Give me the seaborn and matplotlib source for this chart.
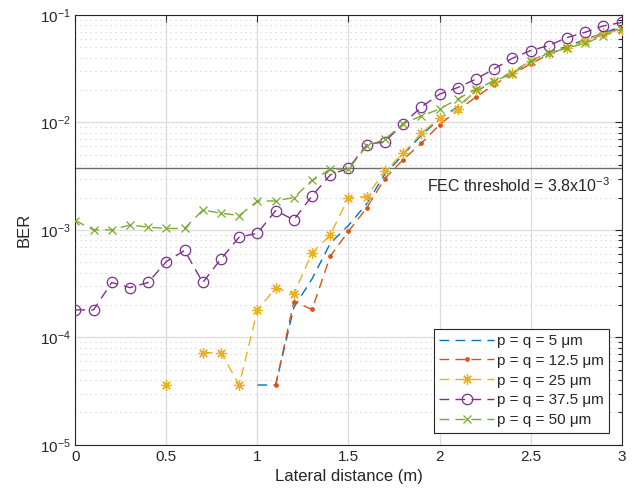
import numpy as np
import pandas as pd
import matplotlib
matplotlib.use("Agg")
import matplotlib.pyplot as plt
import seaborn as sns
from matplotlib.lines import Line2D
from matplotlib.ticker import LogLocator, FixedLocator, NullFormatter

nan = np.nan
x_dist = [0.0, 0.1, 0.2, 0.3, 0.4, 0.5, 0.6, 0.7, 0.8, 0.9,
          1.0, 1.1, 1.2, 1.3, 1.4, 1.5, 1.6, 1.7, 1.8, 1.9,
          2.0, 2.1, 2.2, 2.3, 2.4, 2.5, 2.6, 2.7, 2.8, 2.9, 3.0]

ber_5 = [nan, nan, nan, nan, nan, nan, nan, nan, nan, nan,
         3.6e-5, 3.6e-5, 1.9e-4, 3.5e-4, 7.5e-4, 1.1e-3, 1.75e-3, 3.3e-3, 5.0e-3, 7.6e-3,
         1.08e-2, 1.4e-2, 1.95e-2, 2.4e-2, 2.95e-2, 3.7e-2, 4.5e-2, 5.1e-2, 5.9e-2, 6.8e-2, 7.8e-2]
ber_12_5 = [nan, nan, nan, nan, nan, nan, nan, nan, nan, nan,
            nan, 3.6e-5, 2.15e-4, 1.82e-4, 5.7e-4, 9.7e-4, 1.6e-3, 3.0e-3, 4.5e-3, 6.4e-3,
            9.5e-3, 1.3e-2, 1.72e-2, 2.25e-2, 2.8e-2, 3.5e-2, 4.3e-2, 5.0e-2, 5.7e-2, 6.6e-2, 7.6e-2]
ber_25 = [nan, nan, nan, nan, nan, 3.6e-5, nan, 7.2e-5, 7.2e-5, 3.6e-5,
          1.8e-4, 2.87e-4, 2.54e-4, 6.1e-4, 9.0e-4, 2.0e-3, 2.04e-3, 3.54e-3, 5.16e-3, 7.93e-3,
          1.1e-2, 1.34e-2, 2.0e-2, 2.4e-2, 2.9e-2, 3.7e-2, 4.4e-2, 4.9e-2, 5.77e-2, 6.76e-2, 7.2e-2]
ber_37_5 = [1.8e-4, 1.8e-4, 3.24e-4, 2.9e-4, 3.24e-4, 5.07e-4, 6.43e-4, 3.24e-4, 5.37e-4, 8.55e-4,
            9.3e-4, 1.51e-3, 1.24e-3, 2.07e-3, 3.25e-3, 3.75e-3, 6.18e-3, 6.63e-3, 9.7e-3, 1.39e-2,
            1.83e-2, 2.11e-2, 2.53e-2, 3.15e-2, 3.95e-2, 4.66e-2, 5.19e-2, 6.15e-2, 6.9e-2, 7.9e-2, 8.5e-2]
ber_50 = [1.22e-3, 1.0e-3, 1.0e-3, 1.11e-3, 1.06e-3, 1.03e-3, 1.03e-3, 1.53e-3, 1.43e-3, 1.36e-3,
          1.85e-3, 1.86e-3, 2.0e-3, 2.88e-3, 3.67e-3, 3.67e-3, 6.04e-3, 6.97e-3, 9.7e-3, 1.15e-2,
          1.33e-2, 1.65e-2, 2.04e-2, 2.44e-2, 2.83e-2, 3.69e-2, 4.41e-2, 4.91e-2, 5.46e-2, 6.38e-2, 7.36e-2]

labels = ["p = q = 5 μm", "p = q = 12.5 μm", "p = q = 25 μm", "p = q = 37.5 μm", "p = q = 50 μm"]
series = [ber_5, ber_12_5, ber_25, ber_37_5, ber_50]
fec_threshold = 3.8e-3

colors = ["#0072BD", "#D95319", "#EDB120", "#7E2F8E", "#77AC30"]
markers = [None, ".", (8, 2, 0), "o", "x"]
msizes = [0, 5, 7.5, 7.5, 6]

sns.set_style("white")
plt.rcParams["font.family"] = ["Liberation Sans", "DejaVu Sans"]
plt.rcParams["mathtext.fontset"] = "custom"
plt.rcParams["mathtext.rm"] = "Liberation Sans"
plt.rcParams["mathtext.it"] = "Liberation Sans:italic"

fig = plt.figure(figsize=(6.35, 4.97), dpi=100)
ax = fig.add_axes([0.1186, 0.105, 0.8604, 0.865])

dash = (7, 4.5)
for lab, vals, c, m, s in zip(labels, series, colors, markers, msizes):
    # split at missing values so gaps are not bridged
    rows = []
    seg = 0
    prev_nan = True
    for xv, yv in zip(x_dist, vals):
        if np.isnan(yv):
            prev_nan = True
            continue
        if prev_nan:
            seg += 1
        prev_nan = False
        rows.append({"x": xv, "BER": yv, "seg": seg})
    sub = pd.DataFrame(rows)
    n_before = len(ax.lines)
    sns.lineplot(data=sub, x="x", y="BER", units="seg", estimator=None, color=c,
                 lw=1.0, ax=ax, legend=False)
    for ln in ax.lines[n_before:]:
        ln.set_dashes(dash)
        if m is not None:
            ln.set_marker(m)
            ln.set_markersize(s)
            ln.set_markeredgecolor(c)
            ln.set_markeredgewidth(0.9)
            ln.set_markerfacecolor("none" if m == "o" else c)
        ln.set_zorder(3)

ax.set_yscale("log")
ax.set_xlim(0, 3)
ax.set_ylim(1e-5, 1e-1)
ax.axhline(fec_threshold, color="#6e6e6e", lw=1.0, zorder=2)
ax.text(1.93, 2.6e-3, "FEC threshold = 3.8x10$^{-3}$", fontsize=11.5, color="#262626",
        ha="left", va="center")

ax.set_xticks([0, 0.5, 1, 1.5, 2, 2.5, 3])
ax.set_xticklabels(["0", "0.5", "1", "1.5", "2", "2.5", "3"])
ax.yaxis.set_major_locator(FixedLocator([1e-5, 1e-4, 1e-3, 1e-2, 1e-1]))
ax.yaxis.set_minor_locator(LogLocator(base=10, subs=np.arange(2, 10), numticks=20))
ax.yaxis.set_minor_formatter(NullFormatter())

ax.grid(True, which="major", axis="both", color="#dcdcdc", lw=0.9, ls="-")
ax.grid(True, which="minor", axis="y", color="#cfcfcf", lw=0.8, ls=(0, (1, 3.5)))
ax.set_axisbelow(True)

ax.tick_params(which="both", direction="in", top=True, right=True, colors="#262626",
               labelsize=11, width=0.8)
ax.tick_params(which="major", length=5)
ax.tick_params(which="minor", length=3)
for sp in ax.spines.values():
    sp.set_color("#262626")
    sp.set_linewidth(0.8)

ax.set_xlabel("Lateral distance (m)", fontsize=12, color="#262626", labelpad=4)
ax.set_ylabel("BER", fontsize=12, color="#262626", labelpad=6)

handles = []
for lab, c, m, s in zip(labels, colors, markers, msizes):
    handles.append(Line2D([0], [0], color=c, lw=1.0, ls=(0, dash),
                          marker=m, markersize=s,
                          markeredgecolor=c, markeredgewidth=0.9,
                          markerfacecolor=("none" if m == "o" else c)))
leg = ax.legend(handles, labels, loc="lower right", fontsize=11, frameon=True,
                fancybox=False, framealpha=1, edgecolor="#262626",
                handlelength=3.6, handletextpad=0.2, labelspacing=0.38,
                borderpad=0.35, borderaxespad=0.8)
leg.get_frame().set_linewidth(0.8)

fig.savefig("out.png", dpi=100)
